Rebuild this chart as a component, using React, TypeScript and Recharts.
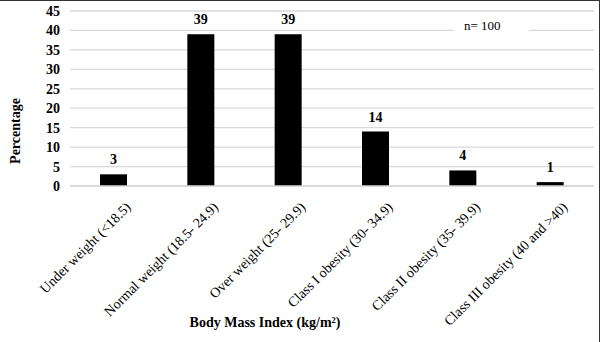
import React from 'react';
import { BarChart, Bar, XAxis, YAxis, CartesianGrid, LabelList, Label } from 'recharts';

const FONT = "'Liberation Serif', 'Times New Roman', serif";

const categories = [
  'Under weight (<18.5)',
  'Normal weight (18.5- 24.9)',
  'Over weight (25- 29.9)',
  'Class I obesity (30- 34.9)',
  'Class II obesity (35- 39.9)',
  'Class III obesity (40 and >40)',
];
const percentages = [3, 39, 39, 14, 4, 1];
const yTicks = [0, 5, 10, 15, 20, 25, 30, 35, 40, 45];

const data = categories.map((name, i) => ({ name, value: percentages[i] }));

function CategoryTick({ x, y, payload }: any) {
  const tx = x + 18;
  const ty = y + 14;
  return (
    <text
      x={tx}
      y={ty}
      textAnchor="end"
      transform={`rotate(-45, ${tx}, ${ty})`}
      fontFamily={FONT}
      fontSize={14}
      fill="#000"
    >
      {payload.value}
    </text>
  );
}

export default function App() {
  return (
    <div style={{ position: 'absolute', left: 0, top: 0, width: 600, height: 342, background: '#fff', fontFamily: FONT }}>
      <BarChart width={600} height={342} data={data} margin={{ top: 11, right: 6, left: 0, bottom: 0 }} style={{ fontFamily: FONT }}>
        <CartesianGrid vertical={false} stroke="#d9d9d9" strokeWidth={1.3} />
        <XAxis
          dataKey="name"
          interval={0}
          height={156}
          tickLine={false}
          axisLine={{ stroke: '#d9d9d9', strokeWidth: 1.3 }}
          tick={<CategoryTick />}
        >
          <Label
            content={() => (
              <text x={265} y={327} textAnchor="middle" fontFamily={FONT} fontSize={14} fontWeight="bold" fill="#000">
                Body Mass Index (kg/m²)
              </text>
            )}
          />
        </XAxis>
        <YAxis
          width={70}
          domain={[0, 45]}
          ticks={yTicks}
          interval={0}
          tickLine={false}
          axisLine={false}
          tickMargin={4}
          tick={{ fontFamily: FONT, fontSize: 14, fontWeight: 'bold', fill: '#000' }}
        >
          <Label
            content={() => (
              <text
                x={20}
                y={131}
                textAnchor="middle"
                transform="rotate(-90, 20, 131)"
                fontFamily={FONT}
                fontSize={14}
                fontWeight="bold"
                fill="#000"
              >
                Percentage
              </text>
            )}
          />
        </YAxis>
        <Bar dataKey="value" fill="#000" barSize={27} isAnimationActive={false}>
          <LabelList
            dataKey="value"
            position="top"
            offset={10}
            fontFamily={FONT}
            fontSize={14}
            fontWeight="bold"
            fill="#000"
          />
        </Bar>
      </BarChart>
      <div
        style={{
          position: 'absolute',
          left: 454,
          top: 17,
          width: 75,
          height: 17,
          background: '#fff',
          fontSize: 13,
          lineHeight: '17px',
          paddingLeft: 10,
          boxSizing: 'border-box',
          color: '#000',
        }}
      >
        n= 100
      </div>
      <div style={{ position: 'absolute', left: 0, top: 0, width: 600, height: 1, background: '#333' }} />
      <div style={{ position: 'absolute', left: 599, top: 0, width: 1, height: 342, background: '#333' }} />
    </div>
  );
}
